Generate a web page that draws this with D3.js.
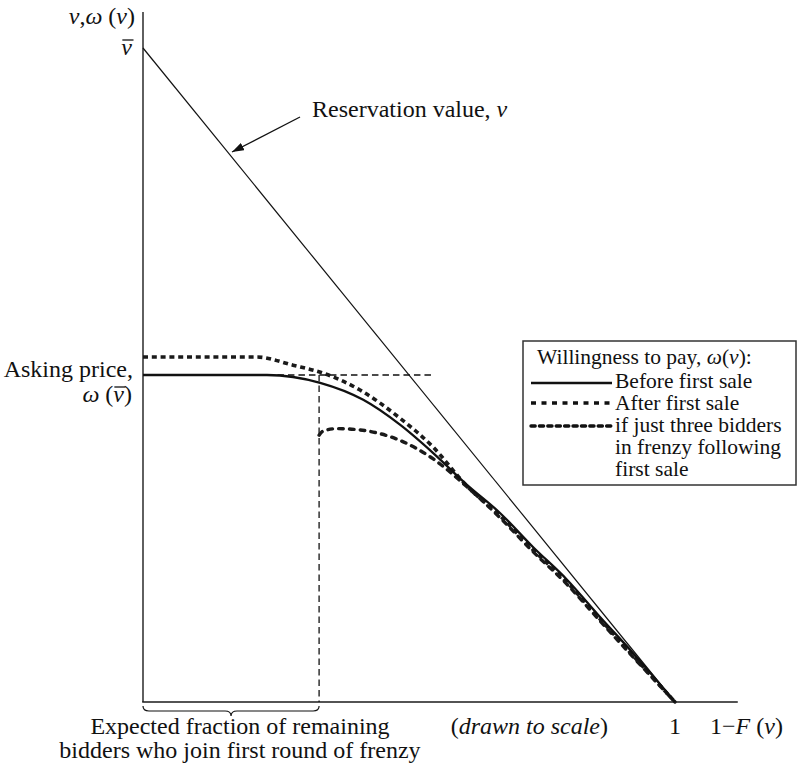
<!DOCTYPE html>
<html>
<head>
<meta charset="utf-8">
<script src="https://cdn.jsdelivr.net/npm/d3@7/dist/d3.min.js"></script>
<style>
  body { margin: 0; background: #fff; }
  svg text { font-family: "Liberation Serif", "Times New Roman", serif; fill: #111; }
</style>
</head>
<body>
<svg id="chart" width="798" height="771"></svg>
<script>
// Willingness to pay against the share of bidders above v, 1 − F(v); v̄ is scaled to 1.
const shareBefore = [0, 0.233, 0.333, 0.414, 0.483, 0.545, 0.609, 0.671, 0.733, 0.797, 0.859, 0.921, 1];
const wtpBefore   = [0.5, 0.5, 0.488, 0.462, 0.424, 0.381, 0.332, 0.289, 0.237, 0.187, 0.130, 0.075, 0];

const shareAfter = [0, 0.214, 0.282, 0.338, 0.408, 0.483, 0.545, 0.609, 0.671, 0.733, 0.797, 0.859, 0.921, 1];
const wtpAfter   = [0.5275, 0.5275, 0.515, 0.503, 0.477, 0.434, 0.390, 0.330, 0.285, 0.233, 0.183, 0.127, 0.071, 0];

const shareFrenzy = [0.331, 0.338, 0.365, 0.408, 0.483, 0.545, 0.609, 0.671, 0.733, 0.797, 0.859, 0.921, 1];
const wtpFrenzy   = [0.408, 0.414, 0.418, 0.416, 0.400, 0.372, 0.329, 0.282, 0.230, 0.180, 0.124, 0.069, 0];

const reservationShare = [0, 1];
const reservationValue = [1, 0];

const askingPrice = 0.5;          // ω(v̄)
const frenzyJoinShare = 0.331;    // expected fraction joining the first round
const askingGuideEnd = 0.545;     // end of the dashed asking-price guide
const axisEndX = 1.118;
const axisEndY = 1.055;

const legendLabels = ["Before first sale", "After first sale", "if just three bidders"];
const legendExtra = ["in frenzy following", "first sale"];

const svg = d3.select("#chart");

const x = d3.scaleLinear().domain([0, 1]).range([143, 675]);
const y = d3.scaleLinear().domain([0, 1]).range([702, 48]);

const zip = (xs, ys) => xs.map((d, i) => [d, ys[i]]);
const line = d3.line().x(d => x(d[0])).y(d => y(d[1])).curve(d3.curveMonotoneX);
const straight = d3.line().x(d => x(d[0])).y(d => y(d[1]));

// Axes
svg.append("line")
  .attr("x1", x(0)).attr("x2", x(0))
  .attr("y1", y(0)).attr("y2", y(axisEndY))
  .attr("stroke", "#444").attr("stroke-width", 1.7);
svg.append("line")
  .attr("x1", x(0) - 0.8).attr("x2", x(axisEndX))
  .attr("y1", y(0)).attr("y2", y(0))
  .attr("stroke", "#1a1a1a").attr("stroke-width", 1.5);

// Reservation value line
svg.append("path")
  .attr("d", straight(zip(reservationShare, reservationValue)))
  .attr("fill", "none").attr("stroke", "#111").attr("stroke-width", 1.2);

// Thin dashed guides: asking price level and frenzy share
svg.append("path")
  .attr("d", straight([[0.233, askingPrice], [askingGuideEnd, askingPrice]]))
  .attr("fill", "none").attr("stroke", "#111").attr("stroke-width", 1.3)
  .attr("stroke-dasharray", "6.5,4");
svg.append("path")
  .attr("d", straight([[frenzyJoinShare, askingPrice], [frenzyJoinShare, 0]]))
  .attr("fill", "none").attr("stroke", "#111").attr("stroke-width", 1.3)
  .attr("stroke-dasharray", "6.5,4");

// Willingness-to-pay curves
const styles = {
  before: { width: 2.3, dash: null, cap: "butt" },
  after:  { width: 3.6, dash: "5,3.8", cap: "butt" },
  frenzy: { width: 3.4, dash: "4.6,6.2", cap: "round" }
};

svg.append("path")
  .attr("d", line(zip(shareAfter, wtpAfter)))
  .attr("fill", "none").attr("stroke", "#1a1a1a")
  .attr("stroke-width", styles.after.width)
  .attr("stroke-dasharray", styles.after.dash);

svg.append("path")
  .attr("d", line(zip(shareFrenzy, wtpFrenzy)))
  .attr("fill", "none").attr("stroke", "#1a1a1a")
  .attr("stroke-width", styles.frenzy.width)
  .attr("stroke-linecap", styles.frenzy.cap)
  .attr("stroke-dasharray", styles.frenzy.dash);

svg.append("path")
  .attr("d", line(zip(shareBefore, wtpBefore)))
  .attr("fill", "none").attr("stroke", "#111")
  .attr("stroke-width", styles.before.width);

// Axis labels
const big = 24;
const yTitle = svg.append("text")
  .attr("x", 135).attr("y", 24).attr("text-anchor", "end")
  .attr("font-size", big);
yTitle.append("tspan").attr("font-style", "italic").text("v");
yTitle.append("tspan").text(",");
yTitle.append("tspan").attr("font-style", "italic").text("ω");
yTitle.append("tspan").text(" (");
yTitle.append("tspan").attr("font-style", "italic").text("v");
yTitle.append("tspan").text(")");

// draws a bar over character i of a text element
function overbar(textSel, i, lift) {
  const node = textSel.node();
  const s = node.getStartPositionOfChar(i);
  const e = node.getEndPositionOfChar(i);
  svg.append("line")
    .attr("x1", s.x + 1).attr("x2", e.x + 1.5)
    .attr("y1", s.y - lift).attr("y2", s.y - lift)
    .attr("stroke", "#111").attr("stroke-width", 1.3);
}

const vbar = svg.append("text")
  .attr("x", 132).attr("y", 55).attr("text-anchor", "end")
  .attr("font-size", big).attr("font-style", "italic").text("v");
overbar(vbar, 0, 15);

svg.append("text")
  .attr("x", 133).attr("y", 377).attr("text-anchor", "end")
  .attr("font-size", big).text("Asking price,");
const omegaBar = svg.append("text")
  .attr("x", 132).attr("y", 402).attr("text-anchor", "end")
  .attr("font-size", big);
omegaBar.append("tspan").attr("font-style", "italic").text("ω");
omegaBar.append("tspan").text(" (");
omegaBar.append("tspan").attr("font-style", "italic").text("v");
omegaBar.append("tspan").text(")");
overbar(omegaBar, 3, 15);

// Reservation value annotation with arrow
svg.append("defs").append("marker")
  .attr("id", "head").attr("viewBox", "0 0 12 8")
  .attr("refX", 12).attr("refY", 4)
  .attr("markerWidth", 12).attr("markerHeight", 8)
  .attr("markerUnits", "userSpaceOnUse")
  .attr("orient", "auto")
  .append("path").attr("d", "M0,0 L12,4 L0,8 Z").attr("fill", "#111");
svg.append("line")
  .attr("x1", 300).attr("y1", 117).attr("x2", 232).attr("y2", 152)
  .attr("stroke", "#111").attr("stroke-width", 1.3)
  .attr("marker-end", "url(#head)");
const resLabel = svg.append("text")
  .attr("x", 312).attr("y", 117).attr("font-size", big);
resLabel.append("tspan").text("Reservation value, ");
resLabel.append("tspan").attr("font-style", "italic").text("v");

// x-axis labels
svg.append("text")
  .attr("x", x(1)).attr("y", 734).attr("text-anchor", "middle")
  .attr("font-size", big).text("1");
const xTitle = svg.append("text")
  .attr("x", 710).attr("y", 734).attr("font-size", big);
xTitle.append("tspan").text("1−");
xTitle.append("tspan").attr("font-style", "italic").text("F");
xTitle.append("tspan").text(" (");
xTitle.append("tspan").attr("font-style", "italic").text("v");
xTitle.append("tspan").text(")");

const note = svg.append("text")
  .attr("x", 608).attr("y", 734).attr("text-anchor", "end")
  .attr("font-size", big);
note.append("tspan").text("(");
note.append("tspan").attr("font-style", "italic").text("drawn to scale");
note.append("tspan").text(")");

// Brace under the frenzy share
const bx0 = x(0), bx1 = x(frenzyJoinShare), bm = (bx0 + bx1) / 2, by = 706;
svg.append("path")
  .attr("d", `M${bx0},${by} Q${bx0},${by + 5} ${bx0 + 6},${by + 5} L${bm - 6},${by + 5} ` +
             `Q${bm},${by + 5} ${bm},${by + 10} Q${bm},${by + 5} ${bm + 6},${by + 5} ` +
             `L${bx1 - 6},${by + 5} Q${bx1},${by + 5} ${bx1},${by}`)
  .attr("fill", "none").attr("stroke", "#111").attr("stroke-width", 1.2);

const braceText = ["Expected fraction of remaining", "bidders who join first round of frenzy"];
svg.selectAll("text.brace").data(braceText).join("text")
  .attr("class", "brace")
  .attr("x", 240).attr("y", (d, i) => 734 + i * 24)
  .attr("text-anchor", "middle").attr("font-size", big)
  .text(d => d);

// Legend
const lg = svg.append("g");
lg.append("rect")
  .attr("x", 523).attr("y", 341).attr("width", 273).attr("height", 144)
  .attr("fill", "#fff").attr("stroke", "#333").attr("stroke-width", 1.5);
const lgSize = 21.5;
const title = lg.append("text").attr("x", 537).attr("y", 364).attr("font-size", lgSize);
title.append("tspan").text("Willingness to pay,  ");
title.append("tspan").attr("font-style", "italic").text("ω");
title.append("tspan").text("(");
title.append("tspan").attr("font-style", "italic").text("v");
title.append("tspan").text("):");

const legendKeys = ["before", "after", "frenzy"];
const legendY = [383, 403, 426];
const legendDash = { before: null, after: "5,5.5", frenzy: "4.2,4.2" };
lg.selectAll("line.key").data(legendKeys).join("line")
  .attr("class", "key")
  .attr("x1", d => d === "frenzy" ? 531 : 531).attr("x2", 612)
  .attr("y1", (d, i) => legendY[i]).attr("y2", (d, i) => legendY[i])
  .attr("stroke", "#111")
  .attr("stroke-width", d => d === "before" ? 2.3 : (d === "after" ? 3.6 : 3.4))
  .attr("stroke-linecap", d => styles[d].cap)
  .attr("stroke-dasharray", d => legendDash[d]);

const legendRows = legendLabels.concat(legendExtra);
lg.selectAll("text.row").data(legendRows).join("text")
  .attr("class", "row")
  .attr("x", 615).attr("y", (d, i) => 388 + i * 22)
  .attr("font-size", lgSize)
  .text(d => d);
</script>
</body>
</html>
